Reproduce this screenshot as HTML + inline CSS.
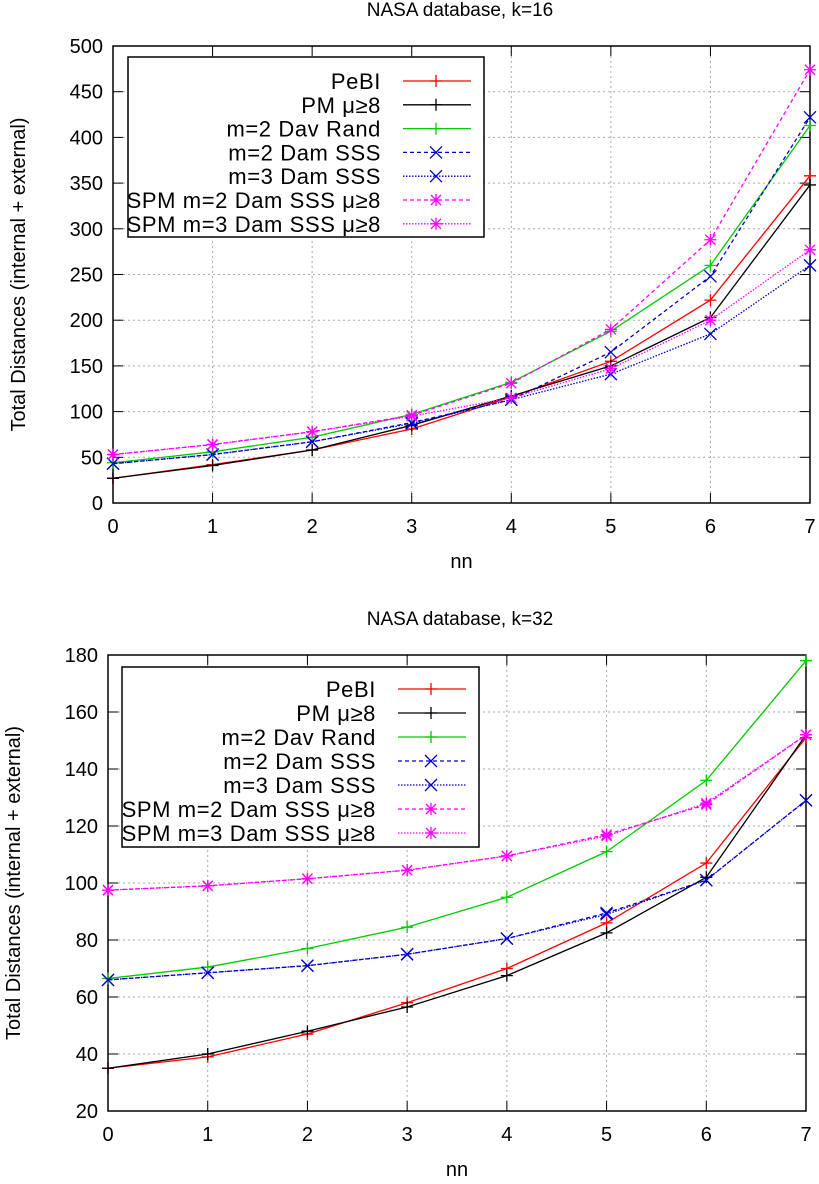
<!DOCTYPE html>
<html><head><meta charset="utf-8"><style>
body{margin:0;background:#fff;width:819px;height:1179px;overflow:hidden}
svg{font-family:"Liberation Sans",sans-serif}
</style></head><body>
<svg id="s" width="819" height="1179" xmlns="http://www.w3.org/2000/svg"></svg>
<script>
const xCats=[0,1,2,3,4,5,6,7];
const names=["PeBI","PM μ≥8","m=2 Dav Rand","m=2 Dam SSS","m=3 Dam SSS","SPM m=2 Dam SSS μ≥8","SPM m=3 Dam SSS μ≥8"];
const topPeBI=[27,42,58,81,116,155,222,358];
const topPM=[27,41,58,85,117,150,203,348];
const topDav=[44,56,72,97,132,188,260,413];
const topM2=[43,53,67,88,113,165,248,422];
const topM3=[43,53,67,87,113,141,185,260];
const topS2=[53,64,78,96,131,190,288,474];
const topS3=[53,64,78,95,115,147,200,277];
const topTicks=[0,50,100,150,200,250,300,350,400,450,500];
const botPeBI=[35,39,47,58,70,86,107,151];
const botPM=[35,40,48,56.5,67.5,82.5,102,152];
const botDav=[66.5,70.5,77,84.5,95,111,136,178];
const botM2=[66,68.5,71,75,80.5,89.5,101,129];
const botM3=[66,68.5,71,75,80.5,89,101,129];
const botS2=[97.5,99,101.5,104.5,109.5,117,127.5,152];
const botS3=[97.5,99,101.5,104.5,109.5,116.5,128,152];
const botTicks=[20,40,60,80,100,120,140,160,180];

const styles=[
 {c:"#f00",d:"",m:"plus"},{c:"#000",d:"",m:"plus"},{c:"#0c0",d:"",m:"plus"},
 {c:"#00c",d:"4,3",m:"x"},{c:"#00c",d:"1.5,1.5",m:"x"},
 {c:"#f0f",d:"4,3",m:"star"},{c:"#f0f",d:"1.5,1.5",m:"star"}];
const svg=document.getElementById('s');
const NS="http://www.w3.org/2000/svg";
function mk(t,a,p){const e=document.createElementNS(NS,t);for(const k in a)e.setAttribute(k,a[k]);(p||svg).appendChild(e);return e;}
function marker(g,x,y,st){
 const s=6;let d;
 if(st.m==="plus")d=`M${x-s} ${y}H${x+s}M${x} ${y-s}V${y+s}`;
 else if(st.m==="x")d=`M${x-s} ${y-s}L${x+s} ${y+s}M${x-s} ${y+s}L${x+s} ${y-s}`;
 else d=`M${x-s} ${y}H${x+s}M${x} ${y-s}V${y+s}M${x-5} ${y-5}L${x+5} ${y+5}M${x-5} ${y+5}L${x+5} ${y-5}`;
 const p=mk('path',{d:d,stroke:st.c,'stroke-width':1.3,fill:'none'},g);
 
 
}
function chart(o){
 const g=mk('g',{});
 
 
 const ymin=o.ticks[0],ymax=o.ticks[o.ticks.length-1];
 const X=v=>o.L+(o.R-o.L)*v/7, Y=v=>o.B-(o.B-o.T)*(v-ymin)/(ymax-ymin);
 const t=mk('text',{x:460,y:o.ty,'text-anchor':'middle','font-size':19},g);t.textContent=o.title;
 
 o.ticks.forEach(v=>{
  const y=Y(v);
  if(v!==ymin&&v!==ymax){const gl=mk('line',{x1:o.L,x2:o.R,y1:y,y2:y,stroke:'#aaa','stroke-dasharray':'2,3','stroke-width':1},g);}
  mk('line',{x1:o.L,x2:o.L+10,y1:y,y2:y,stroke:'#000'},g);mk('line',{x1:o.R,x2:o.R-10,y1:y,y2:y,stroke:'#000'},g);
  const tl=mk('text',{x:o.L-10,y:y+7,'text-anchor':'end','font-size':20},g);tl.textContent=v;
  
 });
 xCats.forEach(v=>{
  const x=X(v);
  if(v>0&&v<7){const gl=mk('line',{x1:x,x2:x,y1:o.T,y2:o.B,stroke:'#aaa','stroke-dasharray':'2,3'},g);}
  mk('line',{x1:x,x2:x,y1:o.B,y2:o.B-10,stroke:'#000'},g);mk('line',{x1:x,x2:x,y1:o.T,y2:o.T+10,stroke:'#000'},g);
  const tl=mk('text',{x:x,y:o.B+30,'text-anchor':'middle','font-size':20},g);tl.textContent=v;
  
 });
 const fr=mk('rect',{x:o.L,y:o.T,width:o.R-o.L,height:o.B-o.T,fill:'none',stroke:'#000','stroke-width':1.5},g);
 
 const xt=mk('text',{x:(o.L+o.R)/2,y:o.B+65,'text-anchor':'middle','font-size':20},g);xt.textContent='nn';
 
 const yt=mk('text',{x:0,y:0,'text-anchor':'middle','font-size':20,transform:`translate(${o.L-88},${(o.T+o.B)/2}) rotate(-90)`},g);yt.textContent='Total Distances (internal + external)';
 
 o.series.forEach((d,i)=>{
  const st=styles[i];
  const pts=d.map((v,j)=>X(xCats[j])+','+Y(v)).join(' ');
  const pl=mk('polyline',{points:pts,fill:'none',stroke:st.c,'stroke-width':1.3,'stroke-dasharray':st.d},g);
  
  d.forEach((v,j)=>marker(g,X(xCats[j]),Y(v),st));
 });
 const lb2=mk('rect',{x:o.lx,y:o.ly,width:o.lw,height:o.lh,fill:'#fff',stroke:'#000','stroke-width':1.5},g);
 
 names.forEach((n,i)=>{
  const st=styles[i];const y=o.ly+o.l0+i*o.ls;
  const lt=mk('text',{x:o.tx,y:y+8,'text-anchor':'end','font-size':22,'letter-spacing':0.6},g);lt.textContent=n;
  
  mk('line',{x1:o.tx+22,x2:o.tx+90,y1:y,y2:y,stroke:st.c,'stroke-width':1.3,'stroke-dasharray':st.d},g);
  marker(g,o.tx+55,y,st);
 });
}
chart({name:'chart-k16',title:'NASA database, k=16',ty:16,L:113,R:810,T:46,B:503,ticks:topTicks,
 series:[topPeBI,topPM,topDav,topM2,topM3,topS2,topS3],lx:128,ly:57,lw:356,lh:180,tx:381,l0:24,ls:23.8});
chart({name:'chart-k32',title:'NASA database, k=32',ty:625,L:108,R:806,T:655,B:1111,ticks:botTicks,
 series:[botPeBI,botPM,botDav,botM2,botM3,botS2,botS3],lx:122,ly:667,lw:357,lh:180,tx:376,l0:22,ls:24});
</script>
</body></html>
